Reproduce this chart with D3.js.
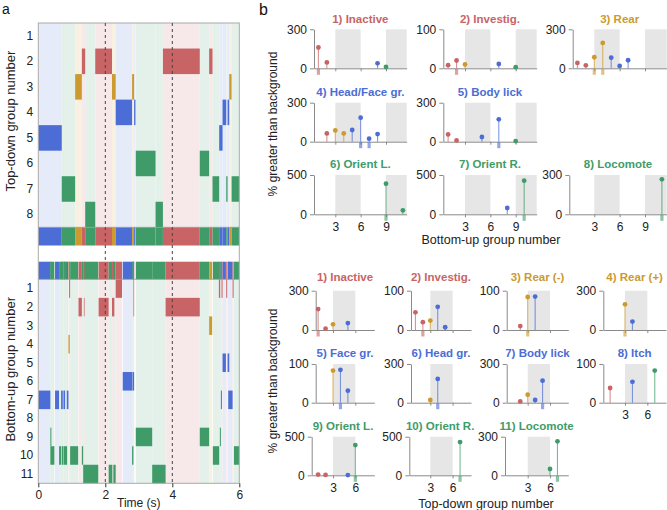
<!DOCTYPE html>
<html><head><meta charset="utf-8">
<script src="https://cdn.jsdelivr.net/npm/d3@7"></script>
<style>
body{margin:0;background:#fff}
svg{display:block}
text{font-family:"Liberation Sans",Arial,Helvetica,sans-serif}
</style>
</head><body>
<svg id="chart" width="667" height="510"></svg>
<script>
// ---------------- DATA ----------------
const topDownNames = ["Inactive","Investig.","Rear","Head/Face gr.","Body lick","Orient L.","Orient R.","Locomote"];
const topDownClass = ["red","red","yellow","blue","blue","green","green","green"];
const bottomUpNames = ["Inactive","Investig.","Rear (-)","Rear (+)","Face gr.","Head gr.","Body lick","Itch","Orient L.","Orient R.","Locomote"];
const bottomUpClass = ["red","red","yellow","yellow","blue","blue","blue","blue","green","green","green"];
const timeTicks = [0,2,4,6];
const markerTimes = [2,4];

// panel a: [group, start (s), end (s)]
const topDownSegments = [
  [5,0,0.70],[7,0.70,1.10],[3,1.10,1.30],[2,1.30,1.40],[8,1.40,1.70],[2,1.70,2.20],
  [3,2.20,2.31],[4,2.31,2.80],[3,2.80,2.86],[4,2.86,2.90],[6,2.91,3.50],[8,3.50,3.72],
  [2,3.72,4.82],[6,4.82,5.10],[2,5.10,5.20],[7,5.20,5.40],[5,5.40,5.50],[4,5.50,5.61],
  [7,5.61,5.65],[4,5.65,5.70],[3,5.70,5.77],[7,5.77,6.0]
];
const bottomUpSegments = [
  [7,0,0.36],[9,0.36,0.39],[10,0.36,0.48],[7,0.50,0.62],[10,0.62,0.68],[7,0.68,0.73],
  [10,0.70,0.75],[7,0.75,0.80],[10,0.76,0.86],[7,0.85,0.90],[4,0.90,0.94],[1,0.92,0.95],
  [10,0.95,1.19],[2,1.20,1.30],[10,1.30,1.34],[11,1.34,1.79],[2,1.36,1.38],[2,1.80,2.10],
  [11,2.10,2.21],[2,2.20,2.27],[11,2.24,2.31],[1,2.31,2.50],[6,2.52,2.81],[10,2.80,2.84],
  [6,2.82,2.86],[1,2.84,2.86],[2,2.84,2.86],[9,2.91,3.40],[11,3.40,3.80],[2,3.80,4.82],
  [9,4.82,5.10],[3,5.10,5.19],[10,5.21,5.40],[1,5.39,5.43],[9,5.42,5.45],[7,5.45,5.48],
  [1,5.47,5.50],[5,5.50,5.60],[1,5.61,5.64],[5,5.65,5.70],[7,5.67,5.80],[1,5.80,5.83],
  [10,5.84,6.0]
];

// panel b, upper: per top-down group, [bottom-up group, % greater than background, matched]
const topDownMax = [300,100,300,300,300,500,500,300];
const topDownVsBottomUp = [
  [[1,160,1],[2,45,0],[8,38,0],[9,10,0]],
  [[1,8,0],[2,20,1],[3,10,0],[7,11,0],[9,3,0]],
  [[1,41,0],[2,23,0],[3,85,1],[4,195,1],[5,82,0],[6,18,0],[7,62,0]],
  [[2,64,0],[3,87,0],[4,64,0],[5,90,0],[6,185,1],[7,23,1],[8,59,0]],
  [[1,56,0],[2,10,0],[5,36,0],[7,172,1],[9,5,0]],
  [[9,390,1],[11,51,0]],
  [[8,80,0],[10,428,1]],
  [[11,267,1]]
];
// panel b, lower: per bottom-up group, [top-down group, %, matched]
const bottomUpMax = [300,100,100,300,100,300,300,100,500,500,300];
const bottomUpVsTopDown = [
  [[1,160,1],[2,10,0],[3,43,0],[5,53,0]],
  [[1,45,0],[2,20,1],[3,24,0],[4,59,0],[5,7,0]],
  [[2,10,0],[3,84,1],[4,85,0]],
  [[3,196,1],[4,64,0]],
  [[3,83,0],[4,85,1],[5,31,0]],
  [[3,21,0],[4,184,1]],
  [[2,10,0],[3,62,0],[4,21,0],[5,171,1]],
  [[1,38,0],[4,54,0],[7,83,0]],
  [[1,9,0],[2,5,0],[5,3,0],[6,392,1]],
  [[7,431,1]],
  [[6,49,0],[7,264,1]]
];
const upperXTicks = [3,6,9];
const lowerXTicks = [3,6];

// ---------------- STYLE / LAYOUT ----------------
const palette = {red:"#c86465", yellow:"#cc9a2f", blue:"#4b6dd5", green:"#3f9c68"};
const light = c => d3.interpolateRgb("#ffffff", c)(0.14);
const svg = d3.select("#chart");

// ---------- Panel a ----------
const A = {left:38.3, right:239.3, top:23, tdBottom:227.3, tdBarBottom:245.5,
           buBarTop:261.7, buTop:279.3, bottom:483.3};
const tx = d3.scaleLinear().domain([0,6]).range([A.left, A.right]);
const yTD = d3.scaleBand().domain(d3.range(1, topDownNames.length+1)).range([A.top, A.tdBottom]);
const yBU = d3.scaleBand().domain(d3.range(1, bottomUpNames.length+1)).range([A.buTop, A.bottom]);
const tdColor = g => palette[topDownClass[g-1]];
const buColor = g => palette[bottomUpClass[g-1]];

const ga = svg.append("g");
const span = sel => sel.attr("x", d => tx(d[1])).attr("width", d => tx(d[2]) - tx(d[1]));
// background bands
ga.selectAll(".tdband").data(topDownSegments).join("rect").call(span)
  .attr("y", A.top).attr("height", A.tdBottom - A.top)
  .attr("fill", d => light(tdColor(d[0])));
ga.selectAll(".buband").data(bottomUpSegments).join("rect").call(span)
  .attr("y", A.buTop).attr("height", A.bottom - A.buTop)
  .attr("fill", d => light(buColor(d[0])));
// segments
ga.selectAll(".tdseg").data(topDownSegments).join("rect").call(span)
  .attr("y", d => yTD(d[0])).attr("height", yTD.bandwidth())
  .attr("fill", d => tdColor(d[0]));
ga.selectAll(".buseg").data(bottomUpSegments).join("rect").call(span)
  .attr("y", d => yBU(d[0])).attr("height", yBU.bandwidth())
  .attr("fill", d => buColor(d[0]));
// summary bars
ga.selectAll(".tdbar").data(topDownSegments).join("rect").call(span)
  .attr("y", A.tdBottom).attr("height", A.tdBarBottom - A.tdBottom)
  .attr("fill", d => tdColor(d[0]));
ga.selectAll(".bubar").data(bottomUpSegments).join("rect").call(span)
  .attr("y", A.buBarTop).attr("height", A.buTop - A.buBarTop)
  .attr("fill", d => buColor(d[0]));
// frame
ga.append("rect").attr("x", A.left).attr("y", A.top)
  .attr("width", A.right - A.left).attr("height", A.bottom - A.top)
  .attr("fill", "none").attr("stroke", "#aaa").attr("stroke-width", 1);
[A.tdBottom, A.buTop].forEach(y => ga.append("line")
  .attr("x1", A.left).attr("x2", A.right).attr("y1", y).attr("y2", y)
  .attr("stroke", "#999").attr("stroke-width", 0.8));
// dashed markers
ga.selectAll(".dash").data(markerTimes).join("line")
  .attr("x1", d => tx(d)).attr("x2", d => tx(d))
  .attr("y1", A.top).attr("y2", A.bottom)
  .attr("stroke", "#444").attr("stroke-width", 1).attr("stroke-dasharray", "3,3");
// axes
const tAxis = ga.append("g").attr("transform", `translate(0,${A.bottom})`)
  .call(d3.axisBottom(tx).tickValues(timeTicks).tickFormat(d3.format("d"))
    .tickSize(4).tickSizeOuter(0).tickPadding(3));
tAxis.select(".domain").remove();
tAxis.selectAll("line").attr("stroke", "#333");
tAxis.selectAll("text").attr("font-size", 12).attr("fill", "#222").attr("font-family", null);
ga.append("text").attr("x", tx(3)).attr("y", 507).attr("text-anchor", "middle")
  .attr("font-size", 12).attr("fill", "#222").text("Time (s)");
const rowAxis = (sel, scale) => {
  sel.call(d3.axisLeft(scale).tickSize(0).tickPadding(5));
  sel.select(".domain").remove();
  sel.selectAll("text").attr("font-size", 12).attr("fill", "#222").attr("font-family", null);
};
ga.append("g").attr("transform", `translate(${A.left},0)`).call(rowAxis, yTD);
ga.append("g").attr("transform", `translate(${A.left},0)`).call(rowAxis, yBU);
ga.append("text").attr("transform", `translate(15,${(A.top + A.tdBottom)/2 - 4}) rotate(-90)`)
  .attr("text-anchor", "middle").attr("font-size", 13).attr("fill", "#222").text("Top-down group number");
ga.append("text").attr("transform", `translate(15,${(A.buTop + A.bottom)/2 - 12}) rotate(-90)`)
  .attr("text-anchor", "middle").attr("font-size", 13).attr("fill", "#222").text("Bottom-up group number");
svg.append("text").attr("x", 2).attr("y", 14).attr("font-size", 14).attr("fill", "#111").text("a");
svg.append("text").attr("x", 259).attr("y", 15).attr("font-size", 16).attr("fill", "#111").text("b");

// ---------- Panel b ----------
function lollipop(g, o) {
  const lo = 3 - (o.g3 - o.axis) / o.step, hi = 3 + (o.end - o.g3) / o.step;
  const x = d3.scaleLinear().domain([lo, hi]).range([o.axis, o.end]);
  const y = d3.scaleLinear().domain([0, o.max]).range([o.zero, o.top]);
  o.shade.forEach(([a, b]) => {
    const a1 = Math.max(a, lo), b1 = Math.min(b, hi);
    if (b1 > a1) g.append("rect").attr("x", x(a1)).attr("width", x(b1) - x(a1))
      .attr("y", y(o.max)).attr("height", y(0) - y(o.max)).attr("fill", "#e6e6e6");
  });
  const yA = g.append("g").attr("transform", `translate(${o.axis},0)`)
    .call(d3.axisLeft(y).tickValues([0, o.max]).tickSize(4).tickSizeOuter(0).tickPadding(3));
  const xA = g.append("g").attr("transform", `translate(0,${o.zero})`)
    .call(d3.axisBottom(x).tickValues(o.ticks).tickSize(3).tickSizeOuter(0).tickPadding(5)
      .tickFormat(o.labels ? d3.format("d") : () => ""));
  [yA, xA].forEach(a => {
    a.selectAll("path,line").attr("stroke", "#8a8a8a");
    a.selectAll("text").attr("font-size", 12).attr("fill", "#222").attr("font-family", null);
  });
  g.selectAll(".mk").data(o.points.filter(d => d[2])).join("rect")
    .attr("x", d => x(d[0]) - 1.6).attr("width", 3.2)
    .attr("y", o.zero + 0.5).attr("height", 6)
    .attr("fill", d => o.color(d[0])).attr("opacity", 0.6);
  g.selectAll(".st").data(o.points).join("line")
    .attr("x1", d => x(d[0])).attr("x2", d => x(d[0]))
    .attr("y1", y(0)).attr("y2", d => y(d[1]))
    .attr("stroke", d => o.color(d[0])).attr("stroke-opacity", 0.7).attr("stroke-width", 1.1);
  g.selectAll(".pt").data(o.points).join("circle")
    .attr("cx", d => x(d[0])).attr("cy", d => y(d[1])).attr("r", 2.4)
    .attr("fill", d => o.color(d[0]));
  g.append("text").attr("x", (o.axis + o.end) / 2).attr("y", o.titleY + 4)
    .attr("text-anchor", "middle").attr("font-size", 11.5).attr("font-weight", "bold")
    .attr("fill", o.titleColor).text(o.title);
}

// upper grid
const upRows = [{t:19, top:29.3, zero:68.3}, {t:92.3, top:102.7, zero:141.7}, {t:164.3, top:175, zero:214.3}];
const upCols = [{axis:314, g3:335.3, end:406.7}, {axis:443.3, g3:465, end:536.7}, {axis:572.7, g3:594.3, end:666.7}];
const upPos = [[0,0],[0,1],[0,2],[1,0],[1,1],[2,0],[2,1],[2,2]];
const upAxisOverride = {7:569.3};
topDownNames.forEach((n, i) => {
  const [r, c] = upPos[i], R = upRows[r], C = upCols[c];
  lollipop(svg.append("g"), {
    axis: upAxisOverride[i] ?? C.axis, g3: C.g3, end: C.end, step: 8.45,
    top: R.top, zero: R.zero, titleY: R.t, max: topDownMax[i],
    points: topDownVsBottomUp[i], color: buColor, shade: [[3,6],[9,20]],
    ticks: upperXTicks, labels: r === 2,
    title: `${i+1}) ${n}`, titleColor: tdColor(i+1)
  });
});
// lower grid
const loRows = [{t:276.7, top:290.7, zero:330}, {t:352.7, top:364, zero:402.7}, {t:425.7, top:436.7, zero:475.3}];
const loCols = [{axis:315.7, g3:333, end:374.3}, {axis:411, g3:430.3, end:471}, {axis:506.7, g3:527.7, end:568.3}, {axis:603.3, g3:625, end:666}];
const loAxisOverride = {8:311.7, 9:409.3, 10:505};
bottomUpNames.forEach((n, i) => {
  const r = Math.floor(i / 4), c = i % 4, R = loRows[r], C = loCols[c];
  lollipop(svg.append("g"), {
    axis: loAxisOverride[i] ?? C.axis, g3: C.g3, end: C.end, step: 7.44,
    top: R.top, zero: R.zero, titleY: R.t, max: bottomUpMax[i],
    points: bottomUpVsTopDown[i], color: tdColor, shade: [[3,6],[9,20]],
    ticks: lowerXTicks, labels: r === 2 || i === 7,
    title: `${i+1}) ${n}`, titleColor: buColor(i+1)
  });
});
// axis titles
svg.append("text").attr("x", 491).attr("y", 244).attr("text-anchor", "middle")
  .attr("font-size", 12.5).attr("fill", "#222").text("Bottom-up group number");
svg.append("text").attr("x", 486).attr("y", 507.5).attr("text-anchor", "middle")
  .attr("font-size", 12.5).attr("fill", "#222").text("Top-down group number");
svg.append("text").attr("transform", "translate(277,124) rotate(-90)").attr("text-anchor", "middle")
  .attr("font-size", 12).attr("fill", "#222").text("% greater than background");
svg.append("text").attr("transform", "translate(277,381) rotate(-90)").attr("text-anchor", "middle")
  .attr("font-size", 12).attr("fill", "#222").text("% greater than background");
</script>
</body></html>
